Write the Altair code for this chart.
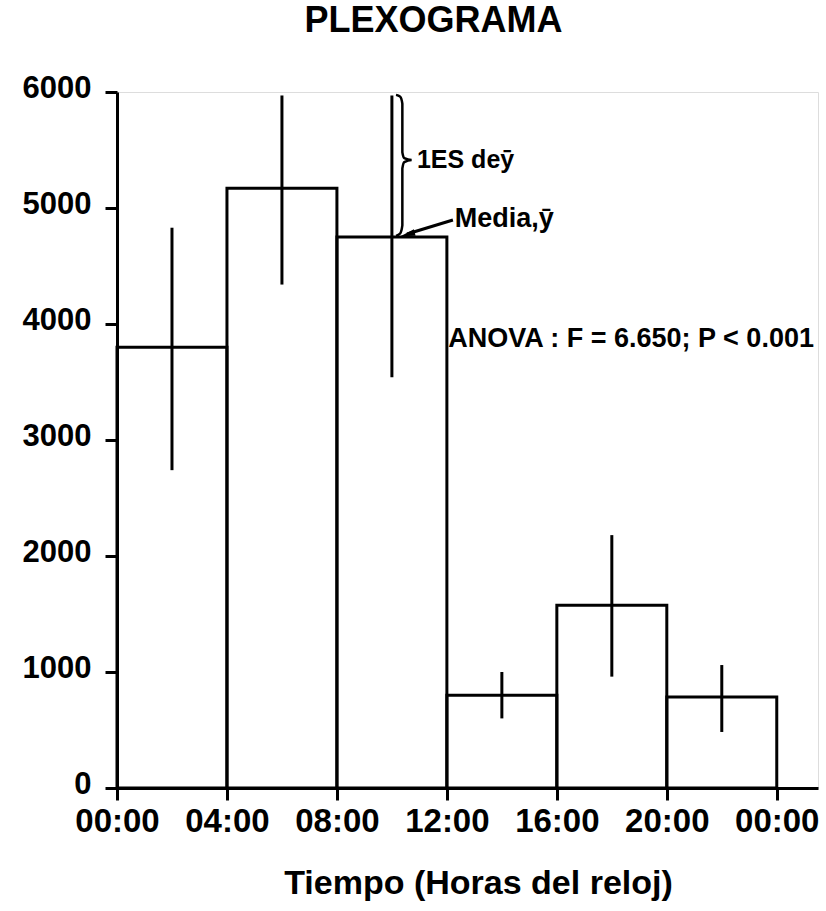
import altair as alt
import pandas as pd

# ---- data ----
bin_start = [0, 4, 8, 12, 16, 20]
bin_end = [4, 8, 12, 16, 20, 24]
bin_mid = [2, 6, 10, 14, 18, 22]
media = [3800, 5170, 4750, 800, 1575, 785]
es_low = [2740, 4340, 3540, 600, 960, 483]
es_high = [4830, 5970, 5970, 1000, 2180, 1060]

tick_hours = [0, 4, 8, 12, 16, 20, 24]
tick_labels = ["00:00", "04:00", "08:00", "12:00", "16:00", "20:00", "00:00"]
y_ticks = [0, 1000, 2000, 3000, 4000, 5000, 6000]

# annotation geometry (data coordinates: hours, value)
brace_x = [10.15, 10.30, 10.38, 10.38, 10.45, 10.72, 10.45, 10.38, 10.38, 10.30, 10.15]
brace_y = [5975, 5960, 5900, 5480, 5430, 5414, 5395, 5340, 4850, 4780, 4760]
arrow_x = [12.22, 10.55]
arrow_y = [4897, 4776]
head_x = [10.57]
head_y = [4773]

FONT = "Liberation Sans"

bars = pd.DataFrame({"start": bin_start, "end": bin_end, "mid": bin_mid,
                     "media": media, "lo": es_low, "hi": es_high})
brace = pd.DataFrame({"h": brace_x, "v": brace_y, "o": list(range(len(brace_x)))})
arrow = pd.DataFrame({"h": arrow_x, "v": arrow_y, "o": [0, 1]})
head = pd.DataFrame({"h": head_x, "v": head_y})
notes = pd.DataFrame({
    "h": [10.91, 12.29, 12.05],
    "v": [5345, 4836, 3800],
    "t": ["1ES de\u0233", "Media,\u0233", "ANOVA : F = 6.650; P < 0.001"],
    "s": [25, 27, 27],
})

xscale = alt.Scale(domain=[0, 25.5], nice=False, zero=False)
yscale = alt.Scale(domain=[0, 6000], nice=False)

label_expr = "[" + ",".join("'%s'" % t for t in tick_labels) + "][round(datum.value / 4)]"

x_axis = alt.Axis(values=tick_hours, labelExpr=label_expr, title="Tiempo (Horas del reloj)",
                  labelFont=FONT, labelFontSize=33, labelFontWeight="bold", labelColor="black",
                  titleFont=FONT, titleFontSize=34, titleFontWeight="bold", titleColor="black",
                  tickSize=12, tickWidth=3, tickColor="black", domainWidth=3, domainColor="black",
                  labelPadding=5, titlePadding=28, titleX=361, titleAlign="center",
                  grid=False, labelFlush=False)
y_axis = alt.Axis(values=y_ticks, title=None, format="d",
                  labelFont=FONT, labelFontSize=31, labelFontWeight="bold", labelColor="black",
                  tickSize=12, tickWidth=3, tickColor="black", domainWidth=3, domainColor="black",
                  labelPadding=14, labelOffset=-4, grid=False)


def X(field):
    return alt.X(field, type="quantitative", scale=xscale, axis=x_axis)


def Y(field):
    return alt.Y(field, type="quantitative", scale=yscale, axis=y_axis)


rects = alt.Chart(bars).mark_rect(fill="white", fillOpacity=0, stroke="black", strokeWidth=3).encode(
    x=X("start"), x2="end", y=Y("media"), y2=alt.Y2(datum=0)
)

errs = alt.Chart(bars).mark_rule(color="black", strokeWidth=3).encode(
    x=X("mid"), y=Y("lo"), y2="hi"
)

brace_line = alt.Chart(brace).mark_line(color="black", strokeWidth=2.5, interpolate="monotone").encode(
    x=X("h"), y=Y("v"), order="o"
)

arrow_line = alt.Chart(arrow).mark_line(color="black", strokeWidth=3).encode(
    x=X("h"), y=Y("v"), order="o"
)

arrow_head = alt.Chart(head).mark_point(
    shape="M0,-1L0.45,1L-0.45,1Z", filled=True, color="black", size=220, angle=256, opacity=1
).encode(x=X("h"), y=Y("v"))

texts = alt.Chart(notes).mark_text(
    align="left", baseline="alphabetic", font=FONT, fontWeight="bold", color="black"
).encode(x=X("h"), y=Y("v"), text="t:N", size=alt.Size("s:Q", scale=None, legend=None))

chart = alt.layer(rects, errs, brace_line, arrow_line, arrow_head, texts).properties(
    width=701,
    height=696,
    title=alt.TitleParams("PLEXOGRAMA", font=FONT, fontSize=36, fontWeight="bold", color="black",
                          anchor="middle", dx=-34, offset=4, baseline="alphabetic"),
    autosize=alt.AutoSizeParams(type="none"),
    padding={"left": 117, "top": 92, "right": 8, "bottom": 123},
).configure_view(stroke=None).configure(background="white")

chart.save("out.html", embed_options={"renderer": "svg", "actions": False})
